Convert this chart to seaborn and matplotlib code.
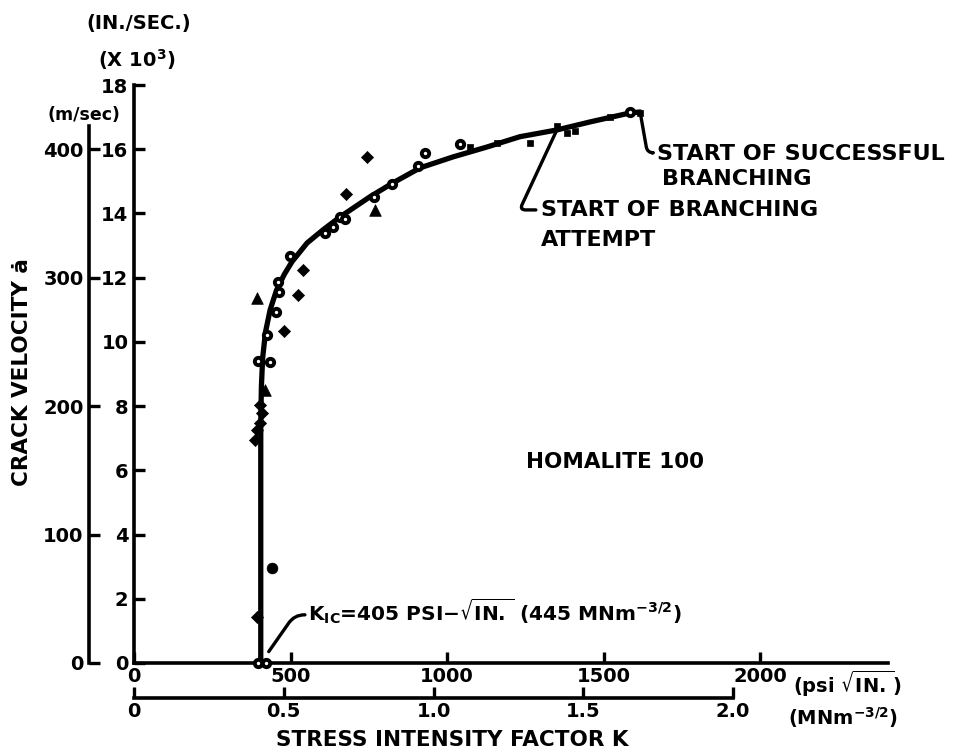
import matplotlib
matplotlib.use("Agg")
import matplotlib.pyplot as plt
import seaborn as sns

# ---- data: K in psi*sqrt(in), crack velocity in in/s (x 10^3) ----
k_ic = 405  # psi*sqrt(in)

curve_k = [405, 405, 407, 411, 420, 435, 455, 480, 505, 553, 604, 658, 754,
           827, 914, 1019, 1128, 1233, 1351, 1457, 1585, 1617]
curve_v = [0.0, 7.5, 8.6, 9.5, 10.3, 11.0, 11.6, 12.1, 12.5, 13.08, 13.49,
           13.89, 14.52, 14.95, 15.42, 15.76, 16.07, 16.39, 16.6, 16.85, 17.13, 17.16]

circle_k = [396, 435, 425, 454, 463, 460, 498, 610, 636, 658, 674, 767, 824,
            907, 930, 1042, 1585, 396, 422]
circle_v = [9.41, 9.38, 10.22, 10.93, 11.56, 11.87, 12.68, 13.40, 13.58, 13.89,
            13.83, 14.52, 14.92, 15.48, 15.89, 16.17, 17.16, 0.0, 0.0]

diamond_k = [540, 524, 479, 677, 744, 403, 409, 403, 393, 387, 393]
diamond_v = [12.24, 11.46, 10.34, 14.61, 15.76, 8.04, 7.79, 7.48, 7.26, 6.95, 1.43]

triangle_k = [393, 418, 770]
triangle_v = [11.37, 8.5, 14.11]

dot_k = [441]
dot_v = [2.96]

square_k = [1073, 1160, 1265, 1351, 1383, 1409, 1521, 1617]
square_v = [16.07, 16.2, 16.2, 16.73, 16.51, 16.57, 17.0, 17.13]

k_ticks = [0, 500, 1000, 1500, 2000]
v_ticks = [0, 2, 4, 6, 8, 10, 12, 14, 16, 18]
si_k_ticks = [0, 0.5, 1.0, 1.5, 2.0]
si_k_labels = ["0", "0.5", "1.0", "1.5", "2.0"]
ms_ticks = [0, 100, 200, 300, 400]

PSI_PER_SI = 957.0   # psi*sqrt(in) per MN m^-3/2 on the lower scale
MS_PER_KIN = 25.0    # m/s per 10^3 in/s on the left scale

# ---- style ----
sns.set_style("ticks")
plt.rcParams["font.family"] = ["DejaVu Sans"]
plt.rcParams["font.weight"] = "bold"
plt.rcParams["mathtext.fontset"] = "dejavusans"
plt.rcParams["mathtext.default"] = "bf"
for key in ("text.color", "axes.labelcolor", "xtick.color", "ytick.color",
            "axes.edgecolor"):
    plt.rcParams[key] = "black"

W, H = 956, 753
fig = plt.figure(figsize=(W / 100, H / 100), dpi=100)
ax = fig.add_axes([134 / W, 90 / H, 754 / W, 578 / H])


def fx(px):
    return px / W


def fy(py):
    return 1 - py / H


# curve
sns.lineplot(x=curve_k, y=curve_v, sort=False, estimator=None, color="black",
             lw=3.8, ax=ax, zorder=2)
ax.lines[-1].set_clip_on(False)
ax.lines[-1].set_solid_joinstyle("round")

# measured points
sns.scatterplot(x=circle_k, y=circle_v, marker="o", s=28, color="white",
                edgecolor="black", linewidth=2.8, ax=ax, clip_on=False, zorder=4)
sns.scatterplot(x=diamond_k, y=diamond_v, marker="D", s=38, color="black",
                edgecolor="black", linewidth=0.5, ax=ax, clip_on=False, zorder=4)
sns.scatterplot(x=triangle_k, y=triangle_v, marker="^", s=70, color="black",
                edgecolor="black", linewidth=0.5, ax=ax, clip_on=False, zorder=4)
sns.scatterplot(x=dot_k, y=dot_v, marker="o", s=60, color="black",
                edgecolor="black", linewidth=0.5, ax=ax, clip_on=False, zorder=4)
sns.scatterplot(x=square_k, y=square_v, marker="s", s=22, color="black",
                edgecolor="black", linewidth=0.5, ax=ax, clip_on=False, zorder=4)

# axes
ax.set_xlim(0, 754 / 0.313)
ax.set_ylim(0, 18)
ax.set_xticks(k_ticks)
ax.set_xticklabels([str(t) for t in k_ticks])
ax.set_yticks(v_ticks)
ax.set_yticklabels([str(t) for t in v_ticks])
ax.set_xlabel("")
ax.set_ylabel("")
ax.spines[["top", "right"]].set_visible(False)
for side in ("left", "bottom"):
    ax.spines[side].set_linewidth(2.6)
ax.tick_params(direction="in", length=8, width=2.4, labelsize=14, pad=3)
ax.tick_params(axis="y", pad=4)

# lower K scale in MN m^-3/2
secx = ax.secondary_xaxis(-35 / 578, functions=(lambda k: k / PSI_PER_SI,
                                                 lambda m: m * PSI_PER_SI))
secx.set_xticks(si_k_ticks)
secx.set_xticklabels(si_k_labels)
secx.spines["bottom"].set_linewidth(2.6)
secx.spines["bottom"].set_bounds(0, 2.0)
secx.tick_params(direction="in", length=8, width=2.4, labelsize=14, pad=3)

# outer velocity scale in m/s
secy = ax.secondary_yaxis(-45 / 754, functions=(lambda v: v * MS_PER_KIN,
                                                 lambda m: m / MS_PER_KIN))
secy.set_yticks(ms_ticks)
secy.set_yticklabels([str(t) for t in ms_ticks])
secy.spines["left"].set_linewidth(2.6)
secy.spines["left"].set_bounds(0, 418)
secy.tick_params(direction="in", length=8, width=2.4, labelsize=14, pad=4)

# leader lines
lead = dict(arrowstyle="-", lw=2.4, color="black", shrinkA=0)
ax.annotate("", xy=(curve_k[-1], curve_v[-1]), xytext=(1655, 15.89),
            arrowprops=dict(lead, shrinkB=3,
                            connectionstyle="angle,angleA=0,angleB=100,rad=6"))
ax.annotate("", xy=(curve_k[18], curve_v[18]), xytext=(1284, 14.11),
            arrowprops=dict(lead, shrinkB=0,
                            connectionstyle="angle,angleA=0,angleB=65,rad=6"))
ax.annotate("", xy=(k_ic, 0), xytext=(546, 1.5),
            arrowprops=dict(lead, shrinkB=10,
                            connectionstyle="angle,angleA=0,angleB=55,rad=10"))

# annotations
ax.text(1671, 15.86, "START OF SUCCESSFUL", ha="left", va="center", size=16)
ax.text(1687, 15.06, "BRANCHING", ha="left", va="center", size=16)
ax.text(1300, 14.11, "START OF BRANCHING", ha="left", va="center", size=16)
ax.text(1300, 13.18, "ATTEMPT", ha="left", va="center", size=16)
ax.text(1252, 6.26, "HOMALITE 100", ha="left", va="center", size=15.5)
ax.text(556, 1.6,
        r"K$_{IC}$=" + f"{k_ic}" + r" PSI$-\sqrt{IN.}$ (445 MNm$^{-3/2}$)",
        ha="left", va="center", size=14.5)

# axis titles and units
fig.text(fx(139), fy(23), "(IN./SEC.)", ha="center", va="center", size=14)
fig.text(fx(137), fy(60), r"(X 10$^{3}$)", ha="center", va="center", size=14)
fig.text(fx(84), fy(115), "(m/sec)", ha="center", va="center", size=12.5)
fig.text(fx(22), fy(372), "CRACK VELOCITY ȧ", rotation=90, ha="center",
         va="center", size=15.5)
fig.text(fx(793), fy(684), r"(psi $\sqrt{IN.}$)", ha="left", va="center", size=14)
fig.text(fx(788), fy(718), r"(MNm$^{-3/2}$)", ha="left", va="center", size=14)
fig.text(fx(452), fy(740), "STRESS INTENSITY FACTOR K", ha="center",
         va="center", size=15.5)

fig.savefig("out.png", dpi=100, facecolor="white")
